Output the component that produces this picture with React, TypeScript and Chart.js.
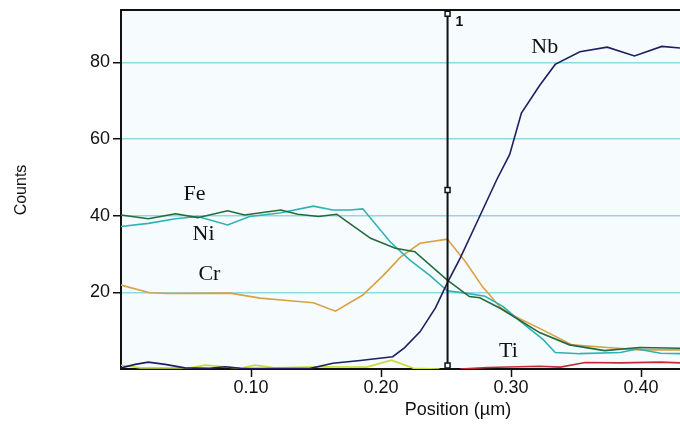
import React, { useEffect, useRef } from "react";
import { Chart, registerables } from "chart.js";

Chart.register(...registerables);

// Position (µm) / Counts data
const feX = [0.0, 0.021, 0.042, 0.059, 0.082, 0.095, 0.123, 0.136, 0.152, 0.166, 0.172, 0.192, 0.211, 0.226, 0.251, 0.268, 0.276, 0.292, 0.302, 0.322, 0.345, 0.372, 0.399, 0.43];
const feY = [40.2, 39.2, 40.5, 39.5, 41.3, 40.2, 41.5, 40.4, 39.8, 40.4, 38.9, 34.1, 31.5, 30.6, 23.2, 18.9, 18.6, 15.8, 13.7, 9.5, 6.3, 4.8, 5.6, 5.4];

const niX = [0.0, 0.021, 0.042, 0.059, 0.082, 0.099, 0.122, 0.148, 0.163, 0.176, 0.186, 0.207, 0.222, 0.238, 0.251, 0.265, 0.28, 0.294, 0.307, 0.325, 0.334, 0.353, 0.384, 0.397, 0.415, 0.43];
const niY = [37.2, 38.0, 39.2, 39.8, 37.6, 39.8, 40.7, 42.5, 41.5, 41.5, 41.8, 33.2, 28.5, 24.3, 20.4, 19.8, 19.0, 16.3, 12.5, 7.6, 4.3, 4.0, 4.3, 5.2, 4.1, 4.0];

const crX = [0.0, 0.022, 0.036, 0.084, 0.107, 0.13, 0.148, 0.165, 0.186, 0.202, 0.215, 0.23, 0.251, 0.265, 0.278, 0.292, 0.302, 0.322, 0.347, 0.374, 0.399, 0.43];
const crY = [21.9, 19.9, 19.7, 19.8, 18.5, 17.8, 17.3, 15.1, 19.3, 24.5, 29.2, 32.8, 33.9, 28.0, 21.5, 16.0, 13.9, 10.6, 6.3, 5.6, 5.0, 5.0];

const nbX = [0.0, 0.011, 0.021, 0.034, 0.049, 0.068, 0.08, 0.092, 0.145, 0.163, 0.184, 0.209, 0.218, 0.23, 0.242, 0.251, 0.261, 0.272, 0.289, 0.299, 0.308, 0.322, 0.334, 0.353, 0.374, 0.395, 0.416, 0.43];
const nbY = [0.3, 1.2, 1.8, 1.2, 0.3, 0.2, 0.6, 0.2, 0.1, 1.5, 2.2, 3.2, 5.5, 9.7, 16.0, 22.5, 29.0, 37.0, 49.4, 56.0, 66.8, 74.0, 79.5, 82.8, 84.0, 81.7, 84.2, 83.8];

const tiX = [0.261, 0.282, 0.322, 0.338, 0.357, 0.384, 0.415, 0.43];
const tiY = [0.0, 0.4, 0.7, 0.5, 1.7, 1.6, 1.8, 1.6];

const otherX = [0.0, 0.015, 0.053, 0.065, 0.092, 0.103, 0.118, 0.153, 0.189, 0.208, 0.225, 0.245];
const otherY = [1.0, 0.3, 0.3, 1.0, 0.2, 1.0, 0.3, 0.6, 0.5, 2.3, 0.2, 0.0];

// cursor line "1"
const cursorX = [0.2512, 0.2512, 0.2512];
const cursorY = [92.7, 46.7, 0.9];

const xTicks = [0.1, 0.2, 0.3, 0.4];
const yTicks = [20, 40, 60, 80];

const elementNames = ["Fe", "Ni", "Cr", "Nb", "Ti"];
const elementLabelX = [0.0565, 0.0635, 0.068, 0.326, 0.298];
const elementLabelY = [44.1, 33.7, 23.2, 82.6, 3.2];

const X_MIN = 0;
const X_MAX = 0.43;
const Y_MIN = 0;
const Y_MAX = 93.7;

const pts = (xs: number[], ys: number[]) => xs.map((x, i) => ({ x, y: ys[i] }));

const zeroPad = (s: any) => {
  s.paddingLeft = 0;
  s.paddingRight = 0;
  s.paddingTop = 0;
  s.paddingBottom = 0;
};

const overlay = {
  id: "overlay",
  beforeDraw(chart: any) {
    const { ctx, chartArea } = chart;
    ctx.save();
    ctx.fillStyle = "#f6fbfd";
    ctx.fillRect(chartArea.left, chartArea.top, chartArea.right - chartArea.left, chartArea.bottom - chartArea.top);
    ctx.restore();
  },
  afterDraw(chart: any) {
    const { ctx, chartArea, scales } = chart;
    ctx.save();
    // top frame line
    ctx.strokeStyle = "#111";
    ctx.lineWidth = 2;
    ctx.beginPath();
    ctx.moveTo(chartArea.left - 1, chartArea.top);
    ctx.lineTo(chartArea.right, chartArea.top);
    ctx.stroke();

    // element labels
    ctx.fillStyle = "#111";
    ctx.font = '22px "Liberation Serif"';
    ctx.textAlign = "center";
    ctx.textBaseline = "alphabetic";
    elementNames.forEach((n, i) => {
      ctx.fillText(n, scales.x.getPixelForValue(elementLabelX[i]), scales.y.getPixelForValue(elementLabelY[i]));
    });

    // cursor label
    ctx.font = 'bold 14px "Liberation Sans"';
    ctx.textAlign = "left";
    ctx.fillText("1", scales.x.getPixelForValue(cursorX[0]) + 8, scales.y.getPixelForValue(cursorY[0]) + 12);

    // axis titles
    ctx.fillStyle = "#111";
    ctx.font = '18px "Liberation Sans"';
    ctx.textAlign = "center";
    ctx.fillText("Position (\u00b5m)", 458, 415);

    ctx.font = '16px "Liberation Sans"';
    ctx.translate(22, 190);
    ctx.rotate(-Math.PI / 2);
    ctx.textBaseline = "middle";
    ctx.fillText("Counts", 0, 0);
    ctx.restore();
  },
};

export default function App() {
  const ref = useRef<HTMLCanvasElement | null>(null);
  useEffect(() => {
    if (!ref.current) return;
    const line = (data: any, color: string, order: number) => ({
      type: "line",
      data,
      borderColor: color,
      backgroundColor: color,
      borderWidth: 1.6,
      pointRadius: 0,
      tension: 0,
      fill: false,
      order,
    });
    const chart = new Chart(ref.current, {
      type: "line",
      data: {
        datasets: [
          {
            label: "cursor",
            data: pts(cursorX, cursorY),
            borderColor: "#111",
            borderWidth: 2,
            pointStyle: "rect",
            pointRadius: 3.5,
            pointBackgroundColor: "#fff",
            pointBorderColor: "#111",
            pointBorderWidth: 1.5,
            clip: false,
            order: 0,
          } as any,
          line(pts(nbX, nbY), "#1d2060", 1),
          line(pts(tiX, tiY), "#c42a35", 2),
          line(pts(feX, feY), "#226b3c", 3),
          line(pts(crX, crY), "#d9a044", 5),
          line(pts(niX, niY), "#2db3b5", 4),
          line(pts(otherX, otherY), "#c9da3a", 6),
        ] as any,
      },
      options: {
        responsive: false,
        animation: false,
        layout: { autoPadding: false, padding: { top: 10, left: 0, right: 0, bottom: 0 } },
        plugins: { legend: { display: false }, tooltip: { enabled: false } },
        scales: {
          x: {
            type: "linear",
            min: X_MIN,
            max: X_MAX,
            afterFit: (s: any) => {
              s.height = 57;
              zeroPad(s);
            },
            afterBuildTicks: (s: any) => {
              s.ticks = xTicks.map((v) => ({ value: v }));
            },
            ticks: {
              callback: (v: any) => Number(v).toFixed(2),
              color: "#111",
              font: { family: "Liberation Sans", size: 18 },
              padding: 0,
              maxRotation: 0,
              autoSkip: false,
            },
            grid: { drawOnChartArea: false, drawTicks: true, tickLength: 8, tickColor: "#111", tickWidth: 1.5 },
            border: { color: "#111", width: 2 },
          },
          y: {
            type: "linear",
            min: Y_MIN,
            max: Y_MAX,
            afterFit: (s: any) => {
              s.width = 121;
              zeroPad(s);
            },
            afterBuildTicks: (s: any) => {
              s.ticks = yTicks.map((v) => ({ value: v }));
            },
            ticks: {
              color: "#111",
              font: { family: "Liberation Sans", size: 18 },
              padding: 3,
              autoSkip: false,
            },
            grid: { color: "#8fd8e8", lineWidth: 1.5, drawTicks: true, tickLength: 8, tickColor: "#111", tickWidth: 1.5 },
            border: { color: "#111", width: 2 },
          },
        },
      } as any,
      plugins: [overlay as any],
    });
    return () => chart.destroy();
  }, []);
  return (
    <div style={{ position: "fixed", left: 0, top: 0, width: 680, height: 426, background: "#fff" }}>
      <canvas ref={ref} width={680} height={426} />
    </div>
  );
}
